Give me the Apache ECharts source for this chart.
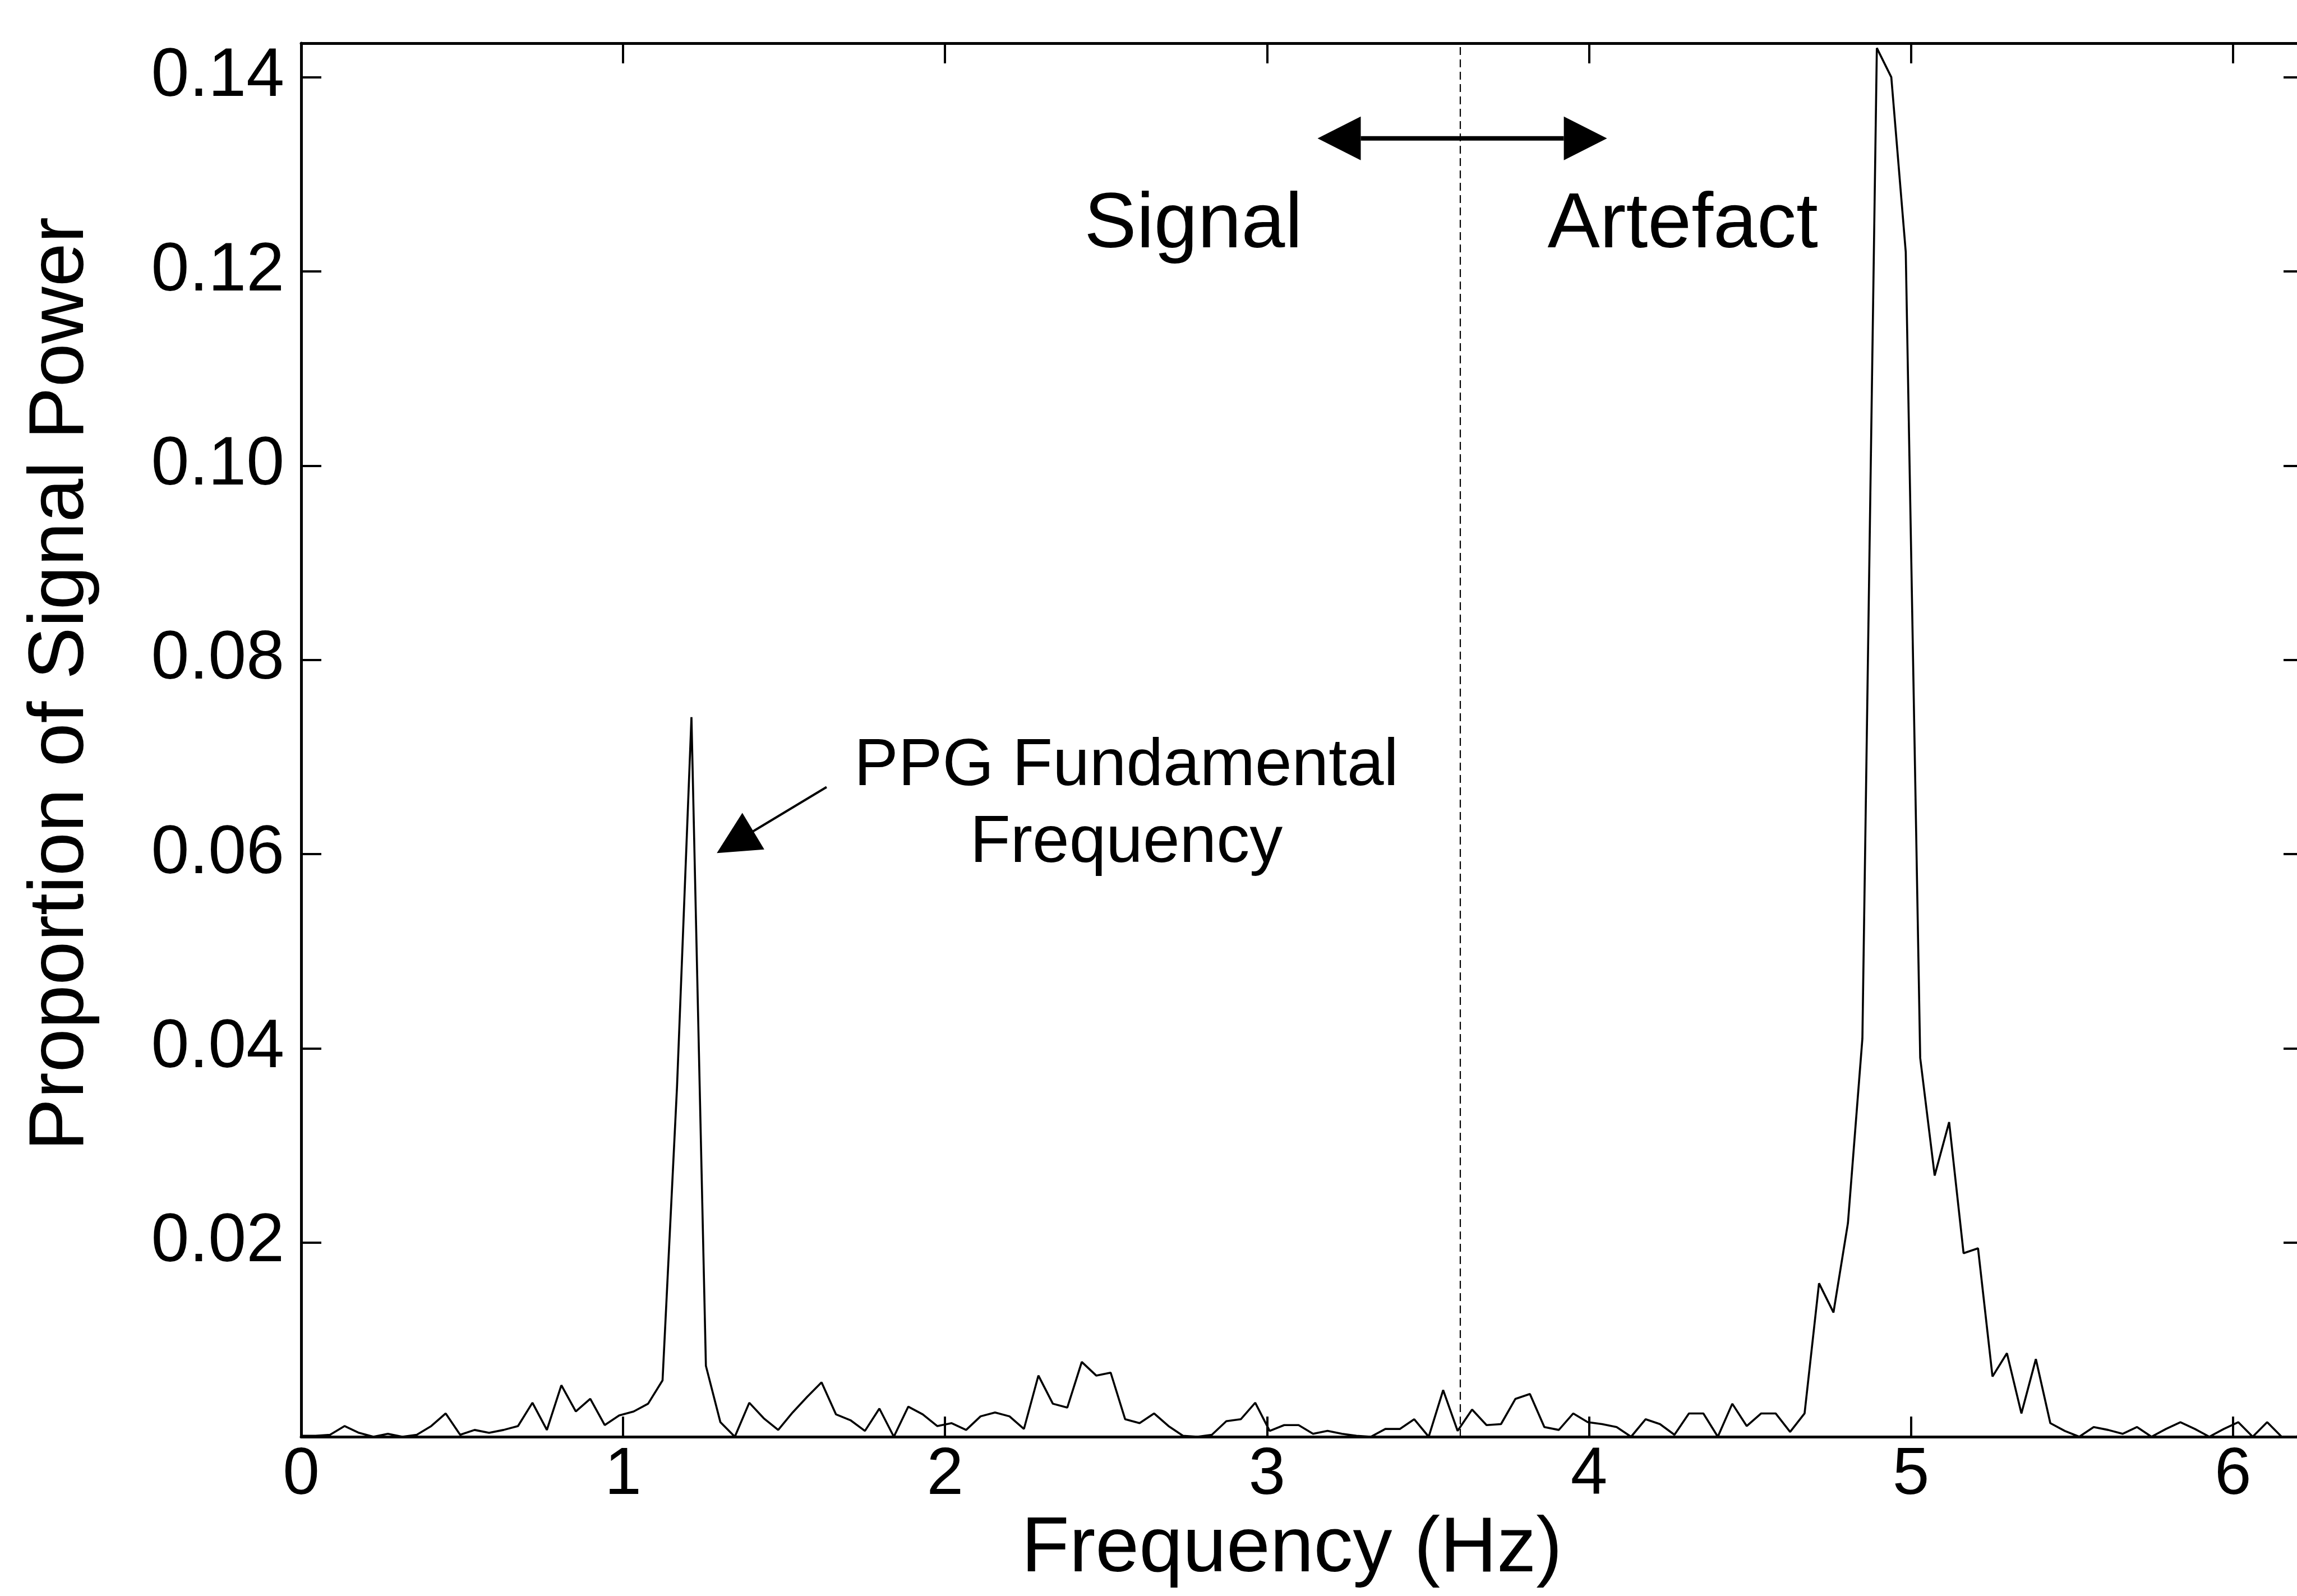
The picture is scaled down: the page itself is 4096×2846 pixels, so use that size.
<!DOCTYPE html>
<html>
<head>
<meta charset="utf-8">
<script src="https://cdn.jsdelivr.net/npm/echarts@6/dist/echarts.min.js"></script>
<style>
html,body{margin:0;padding:0;background:#fff;}
#c{width:4096px;height:2846px;}
</style>
</head>
<body>
<div id="c"></div>
<script>
// ---- data ----
const freqHz = [
 0.0000,0.0449,0.0898,0.1347,0.1796,0.2245,0.2694,0.3143,0.3592,0.4041,
 0.4490,0.4939,0.5388,0.5837,0.6286,0.6735,0.7184,0.7633,0.8082,0.8531,
 0.8980,0.9429,0.9878,1.0327,1.0776,1.1225,1.1674,1.2123,1.2572,1.3021,
 1.3470,1.3919,1.4368,1.4817,1.5266,1.5715,1.6164,1.6613,1.7062,1.7511,
 1.7960,1.8409,1.8858,1.9307,1.9756,2.0205,2.0654,2.1103,2.1552,2.2001,
 2.2450,2.2899,2.3348,2.3797,2.4246,2.4695,2.5144,2.5593,2.6042,2.6491,
 2.6940,2.7389,2.7838,2.8287,2.8736,2.9185,2.9634,3.0083,3.0532,3.0981,
 3.1430,3.1879,3.2328,3.2777,3.3226,3.3675,3.4124,3.4573,3.5022,3.5471,
 3.5920,3.6369,3.6818,3.7267,3.7716,3.8165,3.8614,3.9063,3.9512,3.9961,
 4.0410,4.0859,4.1308,4.1757,4.2206,4.2655,4.3104,4.3553,4.4002,4.4451,
 4.4900,4.5349,4.5798,4.6247,4.6696,4.7145,4.7594,4.8043,4.8492,4.8941,
 4.9390,4.9839,5.0288,5.0737,5.1186,5.1635,5.2084,5.2533,5.2982,5.3431,
 5.3880,5.4329,5.4778,5.5227,5.5676,5.6125,5.6574,5.7023,5.7472,5.7921,
 5.8370,5.8819,5.9268,5.9717,6.0166,6.0615,6.1064,6.1513,6.1962,6.2411
];
const signalPower = [
 0.0001,0.0001,0.0002,0.0011,0.0004,0.0000,0.0003,0.0000,0.0002,0.0011,
 0.0024,0.0002,0.0007,0.0004,0.0007,0.0011,0.0035,0.0007,0.0053,0.0026,
 0.0039,0.0012,0.0022,0.0026,0.0034,0.0058,0.0360,0.0741,0.0073,0.0015,
 0.0000,0.0035,0.0019,0.0007,0.0025,0.0041,0.0056,0.0023,0.0017,0.0006,
 0.0029,0.0000,0.0031,0.0023,0.0011,0.0014,0.0007,0.0021,0.0025,0.0021,
 0.0008,0.0063,0.0034,0.0030,0.0077,0.0063,0.0066,0.0018,0.0014,0.0024,
 0.0011,0.0001,0.0000,0.0002,0.0016,0.0018,0.0035,0.0006,0.0012,0.0012,
 0.0003,0.0006,0.0003,0.0001,0.0000,0.0008,0.0008,0.0018,0.0000,0.0048,
 0.0006,0.0028,0.0012,0.0013,0.0039,0.0044,0.0010,0.0007,0.0024,0.0015,
 0.0013,0.0010,0.0000,0.0018,0.0013,0.0002,0.0024,0.0024,0.0000,0.0034,
 0.0011,0.0024,0.0024,0.0005,0.0024,0.0158,0.0128,0.0220,0.0410,0.1430,
 0.1400,0.1220,0.0390,0.0269,0.0324,0.0189,0.0194,0.0062,0.0086,0.0024,
 0.0080,0.0014,0.0006,0.0000,0.0010,0.0007,0.0003,0.0010,0.0000,0.0008,
 0.0015,0.0008,0.0000,0.0008,0.0015,0.0000,0.0015,0.0000,0.0000,0.0005
];
const xTickLabels = ['0','1','2','3','4','5','6'];
const yTickLabels = ['0.02','0.04','0.06','0.08','0.10','0.12','0.14'];
const xAxisTitle = 'Frequency (Hz)';
const yAxisTitle = 'Proportion of Signal Power';
const boundaryHz = 3.6;
const regionLabels = ['Signal', 'Artefact'];
const peakLabelLines = ['PPG Fundamental', 'Frequency'];

// ---- chart ----
const FONT = '"Liberation Sans", Arial, Helvetica, sans-serif';
const X_MAX = 6.22, Y_MAX = 0.1435;
const chart = echarts.init(document.getElementById('c'), null, {renderer: 'canvas', width: 4096, height: 2846});

function xLabel(v) {
  const i = Math.round(v);
  return (Math.abs(v - i) < 1e-6 && xTickLabels[i] !== undefined) ? xTickLabels[i] : '';
}
function yLabel(v) {
  const i = Math.round(v / 0.02);
  return (Math.abs(v / 0.02 - i) < 1e-6 && i >= 1 && yTickLabels[i - 1] !== undefined) ? yTickLabels[i - 1] : '';
}

const tickStyle = {show: true, inside: true, length: 36, lineStyle: {color: '#000', width: 4}};
const axLine = {show: true, onZero: false, lineStyle: {color: '#000', width: 5}};
const seriesData = freqHz.map((f, i) => [f, signalPower[i]]);

const option = {
  animation: false,
  backgroundColor: '#fff',
  grid: {left: 537, right: -12, top: 77, bottom: 284, containLabel: false, outerBoundsMode: 'none'},
  xAxis: [
    {type: 'value', min: 0, max: X_MAX, interval: 1, position: 'bottom',
     axisLine: axLine, axisTick: tickStyle, splitLine: {show: false},
     axisLabel: {show: true, margin: 10, color: '#000', fontSize: 118, fontFamily: FONT,
                 showMaxLabel: false, formatter: xLabel},
     name: xAxisTitle, nameLocation: 'middle', nameGap: 131, nameMoveOverlap: false,
     nameTextStyle: {fontSize: 140, fontFamily: FONT, color: '#000', padding: [0, 38, 0, 0]}},
    {type: 'value', min: 0, max: X_MAX, interval: 1, position: 'top',
     axisLine: axLine, axisTick: tickStyle, splitLine: {show: false}, axisLabel: {show: false}}
  ],
  yAxis: [
    {type: 'value', min: 0, max: Y_MAX, interval: 0.02, position: 'left',
     axisLine: axLine, axisTick: tickStyle, splitLine: {show: false},
     axisLabel: {show: true, margin: 30, color: '#000', fontSize: 122, fontFamily: FONT, formatter: yLabel},
     name: yAxisTitle, nameLocation: 'middle', nameGap: 358, nameMoveOverlap: false,
     nameTextStyle: {fontSize: 140, fontFamily: FONT, color: '#000', padding: [0, 0, 0, 200]}},
    {type: 'value', min: 0, max: Y_MAX, interval: 0.02, position: 'right',
     axisLine: axLine, axisTick: tickStyle, splitLine: {show: false}, axisLabel: {show: false}}
  ],
  series: [{
    type: 'line', data: seriesData, xAxisIndex: 0, yAxisIndex: 0,
    showSymbol: false, symbol: 'none', clip: true,
    lineStyle: {color: '#000', width: 3.6},
    markLine: {
      silent: true, symbol: ['none', 'none'], label: {show: false}, animation: false,
      lineStyle: {color: '#000', width: 2.2, type: [14, 8]},
      data: [{xAxis: boundaryHz}]
    }
  }]
};
chart.setOption(option);

// ---- annotations anchored in data coordinates ----
function px(x, y) { return chart.convertToPixel({xAxisIndex: 0, yAxisIndex: 0}, [x, y]); }
function head(tip, dir, L, W) {
  const bx = tip[0] + dir[0] * L, by = tip[1] + dir[1] * L;
  const nx = -dir[1], ny = dir[0];
  return {type: 'polygon', z: 100,
    shape: {points: [[tip[0], tip[1]], [bx + nx * W / 2, by + ny * W / 2], [bx - nx * W / 2, by - ny * W / 2]]},
    style: {fill: '#000'}};
}
function txt(p, s, size, align) {
  return {type: 'text', z: 100, x: p[0], y: p[1] - 0.3465 * size,
    style: {text: s, fill: '#000', fontSize: size, fontFamily: FONT, align: align, verticalAlign: 'middle'}};
}
const g = [];
// double arrow across the boundary
const aL = px(3.157, 0.1337), aR = px(4.056, 0.1337);
const HL = 77, HW = 78;
g.push({type: 'line', z: 100, shape: {x1: aL[0] + HL, y1: aL[1], x2: aR[0] - HL, y2: aR[1]},
        style: {stroke: '#000', lineWidth: 8}});
g.push(head(aL, [1, 0], HL, HW));
g.push(head(aR, [-1, 0], HL, HW));
// region labels
g.push(txt(px(3.110, 0.1219), regionLabels[0], 140, 'right'));
g.push(txt(px(3.871, 0.1219), regionLabels[1], 140, 'left'));
// peak annotation arrow
const tip = px(1.291, 0.0601), tail = px(1.632, 0.0669);
let dx = tail[0] - tip[0], dy = tail[1] - tip[1];
const len = Math.hypot(dx, dy); dx /= len; dy /= len;
g.push(head(tip, [dx, dy], 76, 76));
g.push({type: 'line', z: 100, shape: {x1: tip[0] + dx * 70, y1: tip[1] + dy * 70, x2: tail[0], y2: tail[1]},
        style: {stroke: '#000', lineWidth: 4}});
g.push(txt(px(2.563, 0.0666), peakLabelLines[0], 118, 'center'));
g.push(txt(px(2.563, 0.0587), peakLabelLines[1], 118, 'center'));
chart.setOption({graphic: g});
</script>
</body>
</html>
